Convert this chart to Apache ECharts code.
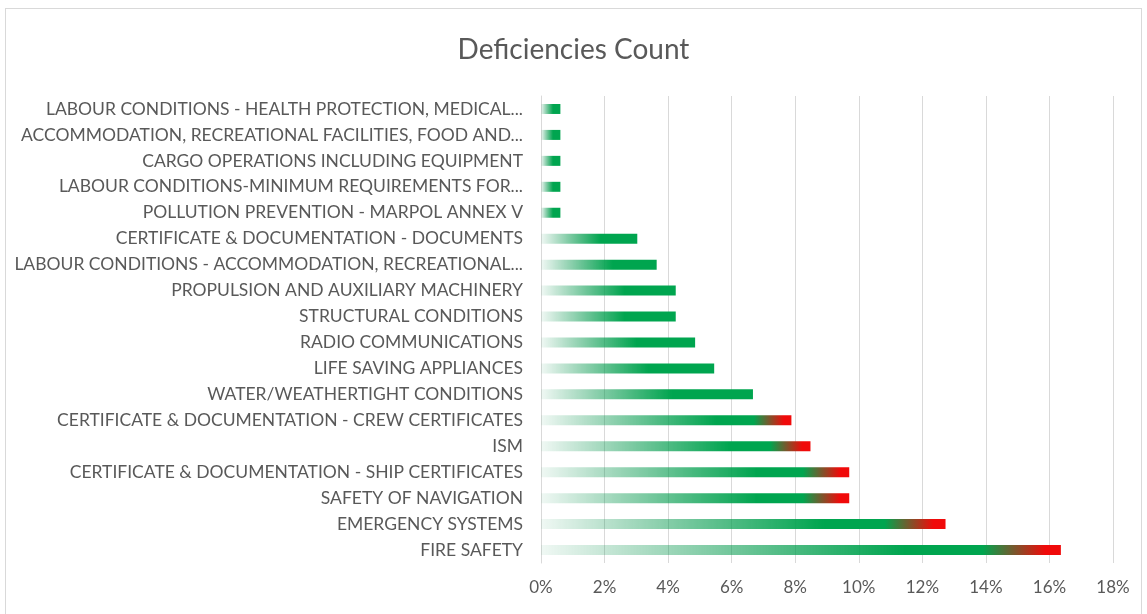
<!DOCTYPE html>
<html>
<head>
<meta charset="utf-8">
<script src="https://cdn.jsdelivr.net/npm/echarts@6/dist/echarts.min.js"></script>
<style>
html,body{margin:0;padding:0;background:#fff;}
#frame{position:absolute;left:5px;top:8px;width:1137px;height:620px;border:1px solid #d9d9d9;box-sizing:border-box;}
#chart{position:absolute;left:0;top:0;width:1147px;height:614px;}
</style>
</head>
<body>
<div id="frame"></div>
<div id="chart"></div>
<script>
// Categories, top to bottom
const categories = [
  "LABOUR CONDITIONS - HEALTH PROTECTION, MEDICAL...",
  "ACCOMMODATION, RECREATIONAL FACILITIES, FOOD AND...",
  "CARGO OPERATIONS INCLUDING EQUIPMENT",
  "LABOUR CONDITIONS-MINIMUM REQUIREMENTS FOR...",
  "POLLUTION PREVENTION - MARPOL ANNEX V",
  "CERTIFICATE & DOCUMENTATION - DOCUMENTS",
  "LABOUR CONDITIONS - ACCOMMODATION, RECREATIONAL...",
  "PROPULSION AND AUXILIARY MACHINERY",
  "STRUCTURAL CONDITIONS",
  "RADIO COMMUNICATIONS",
  "LIFE SAVING APPLIANCES",
  "WATER/WEATHERTIGHT CONDITIONS",
  "CERTIFICATE & DOCUMENTATION - CREW CERTIFICATES",
  "ISM",
  "CERTIFICATE & DOCUMENTATION - SHIP CERTIFICATES",
  "SAFETY OF NAVIGATION",
  "EMERGENCY SYSTEMS",
  "FIRE SAFETY"
];
// Share of deficiencies (%)
const shares = [0.61, 0.61, 0.61, 0.61, 0.61, 3.03, 3.64, 4.24, 4.24, 4.85, 5.45, 6.67, 7.88, 8.48, 9.70, 9.70, 12.73, 16.36];
// Bars ending in red
const redEnding = [false, false, false, false, false, false, false, false, false, false, false, false, true, true, true, true, true, true];
const tickValues = [0, 2, 4, 6, 8, 10, 12, 14, 16, 18];

const GREEN = '#00a54f';
const RED = '#f00a0a';
function greenGrad() {
  return new echarts.graphic.LinearGradient(0, 0, 1, 0, [
    {offset: 0, color: 'rgba(0,140,70,0.06)'},
    {offset: 0.62, color: GREEN},
    {offset: 1, color: GREEN}
  ]);
}
function redGrad() {
  return new echarts.graphic.LinearGradient(0, 0, 1, 0, [
    {offset: 0, color: 'rgba(0,140,70,0.06)'},
    {offset: 0.7, color: GREEN},
    {offset: 0.85, color: GREEN},
    {offset: 0.97, color: RED},
    {offset: 1, color: RED}
  ]);
}

const data = shares.map((v, i) => ({
  value: v,
  itemStyle: {color: redEnding[i] ? redGrad() : greenGrad()}
}));

const chart = echarts.init(document.getElementById('chart'), null, {renderer: 'canvas'});
chart.setOption({
  animation: false,
  backgroundColor: 'transparent',
  textStyle: {fontFamily: 'Lato'},
  title: {
    text: 'Deficiencies Count',
    left: 'center',
    top: 31,
    textStyle: {fontFamily: 'Lato', fontSize: 28, fontWeight: 'normal', color: '#595959'}
  },
  grid: {left: 541, right: 34, top: 96, bottom: 51, containLabel: false},
  xAxis: {
    type: 'value',
    min: tickValues[0],
    max: tickValues[tickValues.length - 1],
    interval: 2,
    axisLine: {show: false},
    axisTick: {show: false},
    splitLine: {show: true, lineStyle: {color: '#d9d9d9', width: 1}},
    axisLabel: {formatter: '{value}%', color: '#595959', fontSize: 17, fontFamily: 'Lato', margin: 16}
  },
  yAxis: {
    type: 'category',
    inverse: true,
    data: categories,
    axisLine: {show: true, lineStyle: {color: '#d9d9d9', width: 1}},
    axisTick: {show: false},
    axisLabel: {color: '#595959', fontSize: 17.5, fontFamily: 'Lato', margin: 18}
  },
  series: [{
    type: 'bar',
    data: data,
    barWidth: 10
  }]
});
</script>
</body>
</html>
